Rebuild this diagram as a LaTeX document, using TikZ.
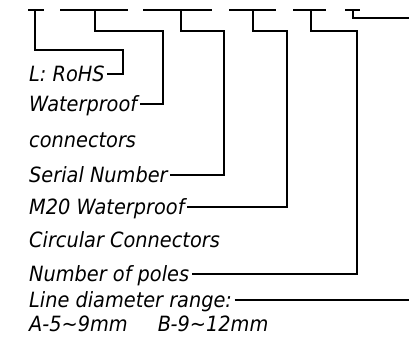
\documentclass[tikz,border=0pt]{standalone}
\usepackage{fontspec}
\setmainfont{DejaVu Sans}
\newfontfamily\lblfont[FakeStretch=0.92]{DejaVu Sans}
\begin{document}
\begin{tikzpicture}[x=1pt,y=-1pt,
  lead/.style={line width=1.3pt, line join=miter},
  lbl/.style={anchor=west, inner xsep=2.5pt, inner ysep=0pt, text height=15.2pt, text depth=0pt,
     font=\lblfont\fontsize{21}{24}\selectfont\itshape}]
\useasboundingbox (0,0) rectangle (409,348);
% top dashes
\coordinate (d1a) at (28,10);  \coordinate (d1b) at (44,10);
\coordinate (d2a) at (60,10);  \coordinate (d2b) at (128,10);
\coordinate (d3a) at (143,10); \coordinate (d3b) at (212,10);
\coordinate (d4a) at (229,10); \coordinate (d4b) at (276,10);
\coordinate (d5a) at (293,10); \coordinate (d5b) at (326,10);
\coordinate (d6a) at (345,10); \coordinate (d6b) at (360,10);
\foreach \i in {1,...,6} \draw[lead] (d\i a) -- (d\i b);
% junctions
\coordinate (t1) at (35,10);
\coordinate (t2) at (95,10);
\coordinate (t3) at (181,10);
\coordinate (t4) at (253,10);
\coordinate (t5) at (311,10);
\coordinate (t6) at (353,10);
% labels
\node[lbl] (l1) at (26.5,74) {L: RoHS};
\node[lbl] (l2) at (26.5,104) {Waterproof};
\node[lbl] (l3) at (26.5,140) {connectors};
\node[lbl] (l4) at (26.5,175) {Serial Number};
\node[lbl] (l5) at (26.5,207) {M20 Waterproof};
\node[lbl] (l6) at (26.5,240) {Circular Connectors};
\node[lbl] (l7) at (26.5,274) {Number of poles};
\node[lbl] (l8) at (26.5,300) {Line diameter range:};
\node[lbl] (l9) at (26.5,324) {A-5\char"223C 9mm\hspace{30pt}B-9\char"223C 12mm};
% right ends
\coordinate (e6) at (409,18);
\coordinate (e8) at (409,300);
% leaders
\draw[lead] (t1) -- (35,50) -- (123,50) |- (l1.east);
\draw[lead] (t2) -- (95,31) -- (163,31) |- (l2.east);
\draw[lead] (t3) -- (181,31) -- (224,31) |- (l4.east);
\draw[lead] (t4) -- (253,31) -- (287,31) |- (l5.east);
\draw[lead] (t5) -- (311,31) -- (357,31) |- (l7.east);
\draw[lead] (t6) |- (e6);
\draw[lead] (l8.east) -- (e8);
\end{tikzpicture}
\end{document}
